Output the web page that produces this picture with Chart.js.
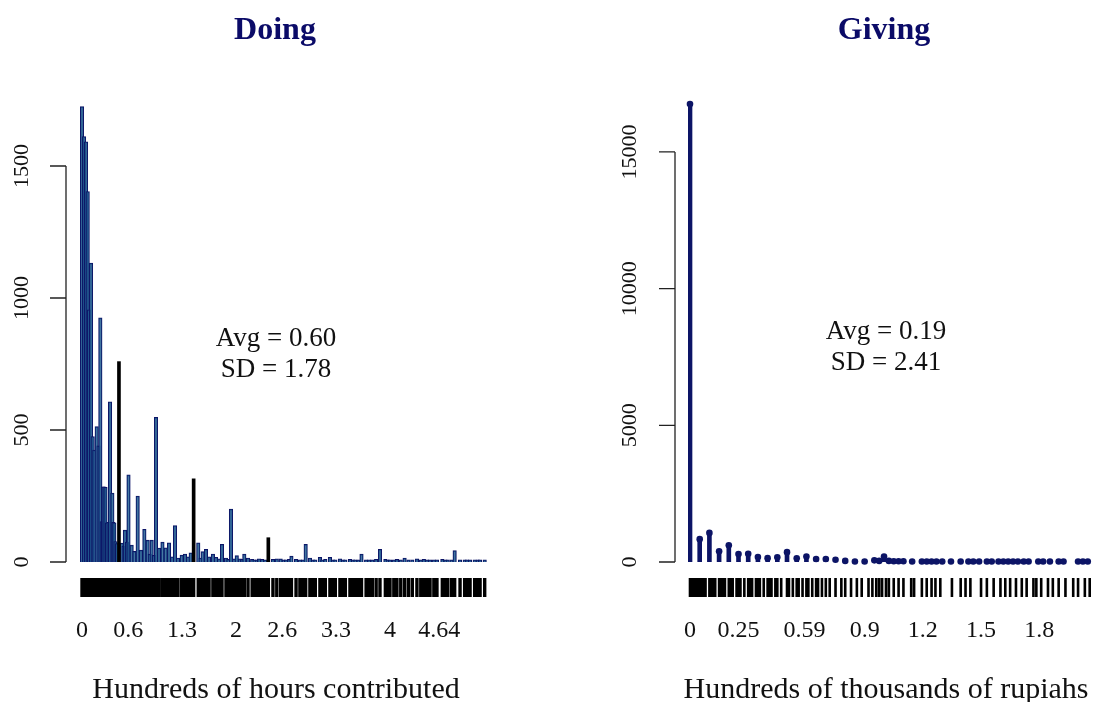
<!DOCTYPE html>
<html>
<head>
<meta charset="utf-8">
<title>Doing and Giving</title>
<script src="https://cdn.jsdelivr.net/npm/chart.js@4.4.1/dist/chart.umd.min.js"></script>
<style>
  html, body { margin: 0; padding: 0; background: #fff; }
  .panel { position: absolute; top: 0; height: 702px; }
  #doingBox { left: 0; width: 548px; }
  #givingBox { left: 548px; width: 549px; }
</style>
</head>
<body>
<div class="panel" id="doingBox"><canvas id="chartDoing"></canvas></div>
<div class="panel" id="givingBox"><canvas id="chartGiving"></canvas></div>
<script>
/* Doing: hours contributed (hundreds) -> number of people */
var doingHours = [
  0, 0.026, 0.052, 0.074, 0.091, 0.117, 0.139, 0.16, 0.191, 0.214, 0.238, 0.256, 0.273, 0.29,
  0.305, 0.325, 0.344, 0.364, 0.394, 0.407, 0.42, 0.435, 0.455, 0.516, 0.54, 0.558, 0.584,
  0.604, 0.645, 0.68, 0.723, 0.766, 0.81, 0.853, 0.88, 0.905, 0.935, 0.961, 1.0, 1.045, 1.087,
  1.13, 1.17, 1.208, 1.247, 1.295, 1.338, 1.377, 1.412, 1.51, 1.54, 1.567, 1.61, 1.65, 1.7,
  1.74, 1.78, 1.818, 1.87, 1.9, 1.935, 1.974, 2.01, 2.05, 2.08, 2.108, 2.156, 2.21, 2.24, 2.27,
  2.3, 2.34, 2.38, 2.48, 2.53, 2.58, 2.62, 2.65, 2.69, 2.72, 2.78, 2.83, 2.87, 2.905, 2.96, 3.0,
  3.03, 3.09, 3.12, 3.16, 3.22, 3.26, 3.29, 3.35, 3.39, 3.42, 3.48, 3.52, 3.55, 3.59, 3.63,
  3.69, 3.73, 3.77, 3.82, 3.87, 3.94, 3.97, 4.0, 4.05, 4.09, 4.14, 4.19, 4.24, 4.29, 4.35, 4.4,
  4.44, 4.48, 4.52, 4.57, 4.61, 4.68, 4.72, 4.75, 4.8, 4.84, 4.91, 4.97, 5.0, 5.04, 5.1, 5.14,
  5.17, 5.23
];
var doingCounts = [
  1725, 1611, 1592, 1403, 955, 1132, 475, 424, 513, 440, 925, 153, 285, 285,
  283, 148, 150, 607, 261, 150, 148, 77, 70, 72, 60, 121, 75,
  330, 64, 40, 250, 45, 124, 83, 30, 83, 25, 548, 53, 75, 54,
  73, 20, 138, 15, 26, 30, 20, 35, 73, 15, 39, 48, 20, 30,
  18, 12, 67, 15, 10, 200, 12, 24, 12, 10, 30, 15, 10, 8, 8,
  12, 10, 8, 10, 12, 12, 8, 8, 10, 22, 10, 8, 8, 67, 15, 8,
  8, 18, 8, 10, 18, 8, 8, 12, 8, 8, 10, 8, 8, 8, 30,
  8, 8, 8, 10, 48, 10, 8, 8, 8, 10, 8, 15, 8, 8, 12, 8,
  10, 8, 8, 8, 8, 10, 8, 8, 8, 43, 8, 8, 8, 8, 8, 8,
  8, 8
];
// round-number spikes drawn in black
var doingPeakHours = [0.48, 1.45, 2.42];
var doingPeakCounts = [759, 315, 92];
var doingTicks = [0, 0.6, 1.3, 2, 2.6, 3.3, 4, 4.64];
var doingCountTicks = [0, 500, 1000, 1500];

/* Giving: rupiahs (hundreds of thousands) -> number of people */
var givingAmounts = [
  0, 0.05, 0.1, 0.15, 0.2, 0.25, 0.3, 0.35, 0.4, 0.45, 0.5, 0.55, 0.6, 0.65, 0.7, 0.75, 0.8,
  0.85, 0.9, 0.95, 0.975, 1.0, 1.025, 1.05, 1.075, 1.1, 1.145, 1.195, 1.22, 1.245, 1.27, 1.3,
  1.345, 1.395, 1.435, 1.46, 1.49, 1.53, 1.555, 1.59, 1.615, 1.64, 1.665, 1.69, 1.72, 1.745,
  1.795, 1.82, 1.855, 1.9, 1.925, 2.0, 2.025, 2.05
];
var givingCounts = [
  16750, 835, 1065, 395, 610, 290, 300, 185, 140, 170, 360, 135, 200, 110, 110, 80, 40,
  20, 20, 60, 40, 200, 40, 30, 30, 30, 20, 20, 20, 20, 20, 20,
  20, 20, 20, 20, 20, 20, 20, 20, 20, 20, 20, 20, 20, 20,
  20, 20, 20, 20, 20, 20, 20, 20
];
var givingRug = [
  0, 0.01, 0.02, 0.03, 0.04, 0.05, 0.06, 0.07, 0.08, 0.1, 0.11, 0.12, 0.13, 0.15, 0.16, 0.17,
  0.18, 0.2, 0.21, 0.22, 0.24, 0.25, 0.26, 0.28, 0.3, 0.31, 0.32, 0.34, 0.35, 0.36, 0.38, 0.4,
  0.41, 0.42, 0.44, 0.45, 0.47, 0.5, 0.51, 0.53, 0.55, 0.56, 0.58, 0.6, 0.61, 0.63, 0.65, 0.66,
  0.68, 0.7, 0.72, 0.75, 0.78, 0.8, 0.83, 0.86, 0.885, 0.92, 0.94, 0.96, 0.975, 0.99, 1.01,
  1.025, 1.05, 1.075, 1.1, 1.14, 1.155, 1.195, 1.22, 1.245, 1.265, 1.29, 1.35, 1.395, 1.42,
  1.445, 1.5, 1.53, 1.565, 1.6, 1.625, 1.65, 1.68, 1.71, 1.735, 1.77, 1.785, 1.81, 1.845, 1.87,
  1.9, 1.935, 1.975, 2.0, 2.035, 2.06
];
var givingTicks = [0, 0.25, 0.59, 0.9, 1.2, 1.5, 1.8];
var givingCountTicks = [0, 5000, 10000, 15000];

var NAVY = '#0c1466';
var TITLE = '#0b0b68';
var INK = '#111';
var SERIF = '"Liberation Serif", "Times New Roman", serif';

function points(xs, ys) {
  return xs.map(function (v, i) { return { x: v, y: ys[i] }; });
}

// R-style decorations: title, offset y axis, rug, tick labels and captions
var rPlot = {
  id: 'rPlot',
  afterDraw: function (chart, args, o) {
    var ctx = chart.ctx, xs = chart.scales.x, ys = chart.scales.y;
    ctx.save();
    ctx.textAlign = 'center';
    ctx.textBaseline = 'alphabetic';

    ctx.fillStyle = TITLE;
    ctx.font = 'bold 32px ' + SERIF;
    ctx.fillText(o.title, o.titleX, 39);

    ctx.fillStyle = INK;
    ctx.font = '27px ' + SERIF;
    o.stats.forEach(function (s, i) { ctx.fillText(s, o.statsX, o.statsY + i * 31); });

    // y axis
    var top = ys.getPixelForValue(o.yTicks[o.yTicks.length - 1]);
    var bot = ys.getPixelForValue(o.yTicks[0]);
    ctx.strokeStyle = '#222';
    ctx.lineWidth = 1.3;
    ctx.beginPath();
    ctx.moveTo(o.axisX, top);
    ctx.lineTo(o.axisX, bot);
    o.yTicks.forEach(function (v) {
      var py = ys.getPixelForValue(v);
      ctx.moveTo(o.axisX - 16, py);
      ctx.lineTo(o.axisX, py);
    });
    ctx.stroke();
    ctx.font = '22px ' + SERIF;
    ctx.textBaseline = 'middle';
    o.yTicks.forEach(function (v) {
      ctx.save();
      ctx.translate(o.labelX, ys.getPixelForValue(v));
      ctx.rotate(-Math.PI / 2);
      ctx.fillText(String(v), 0, 0);
      ctx.restore();
    });

    // rug
    ctx.strokeStyle = '#000';
    ctx.lineWidth = o.rugWidth;
    ctx.beginPath();
    o.rug.forEach(function (v) {
      var px = xs.getPixelForValue(v);
      ctx.moveTo(px, 578);
      ctx.lineTo(px, 597);
    });
    ctx.stroke();

    // x tick labels and caption
    ctx.textBaseline = 'alphabetic';
    ctx.font = '24px ' + SERIF;
    o.xTicks.forEach(function (v) { ctx.fillText(String(v), xs.getPixelForValue(v), 637); });
    ctx.font = '30px ' + SERIF;
    ctx.fillText(o.xTitle, o.xTitleX, 698);
    ctx.restore();
  }
};

Chart.defaults.animation = false;
Chart.defaults.events = [];

// ---- Doing ----
new Chart(document.getElementById('chartDoing'), {
  type: 'bar',
  plugins: [rPlot],
  data: {
    datasets: [
      { data: points(doingPeakHours, doingPeakCounts), backgroundColor: '#000', borderWidth: 0,
        barThickness: 3, grouped: false },
      { data: points(doingHours, doingCounts), backgroundColor: 'rgba(34,96,146,0.8)',
        borderColor: NAVY, borderWidth: 1, barThickness: 3.5, grouped: false }
    ]
  },
  options: {
    responsive: true, maintainAspectRatio: false,
    layout: { padding: { left: 80, right: 61, top: 100, bottom: 140 } },
    plugins: {
      legend: { display: false }, tooltip: { enabled: false },
      rPlot: {
        title: 'Doing', titleX: 275,
        stats: ['Avg = 0.60', 'SD = 1.78'], statsX: 276, statsY: 346,
        yTicks: doingCountTicks, axisX: 66, labelX: 22,
        rug: doingHours.concat(doingPeakHours), rugWidth: 3.4,
        xTicks: doingTicks, xTitle: 'Hundreds of hours contributed', xTitleX: 276
      }
    },
    scales: {
      x: { type: 'linear', display: false, offset: false, min: -0.026, max: 5.26 },
      y: { display: false, min: 0, max: 1750 }
    }
  }
});

// ---- Giving ----
new Chart(document.getElementById('chartGiving'), {
  type: 'bar',
  plugins: [rPlot],
  data: {
    datasets: [
      { type: 'line', data: points(givingAmounts, givingCounts), showLine: false,
        pointRadius: 3.3, pointBackgroundColor: NAVY, pointBorderWidth: 0, clip: false },
      { data: points(givingAmounts, givingCounts), backgroundColor: NAVY, borderWidth: 0,
        barThickness: 4, grouped: false }
    ]
  },
  options: {
    responsive: true, maintainAspectRatio: false,
    layout: { padding: { left: 140, right: 2, top: 100, bottom: 140 } },
    plugins: {
      legend: { display: false }, tooltip: { enabled: false },
      rPlot: {
        title: 'Giving', titleX: 336,
        stats: ['Avg = 0.19', 'SD = 2.41'], statsX: 338, statsY: 339,
        yTicks: givingCountTicks, axisX: 127, labelX: 82,
        rug: givingRug, rugWidth: 2.6,
        xTicks: givingTicks, xTitle: 'Hundreds of thousands of rupiahs', xTitleX: 338
      }
    },
    scales: {
      x: { type: 'linear', display: false, offset: false, min: -0.0103, max: 2.077 },
      y: { display: false, min: 0, max: 16900 }
    }
  }
});
</script>
</body>
</html>
